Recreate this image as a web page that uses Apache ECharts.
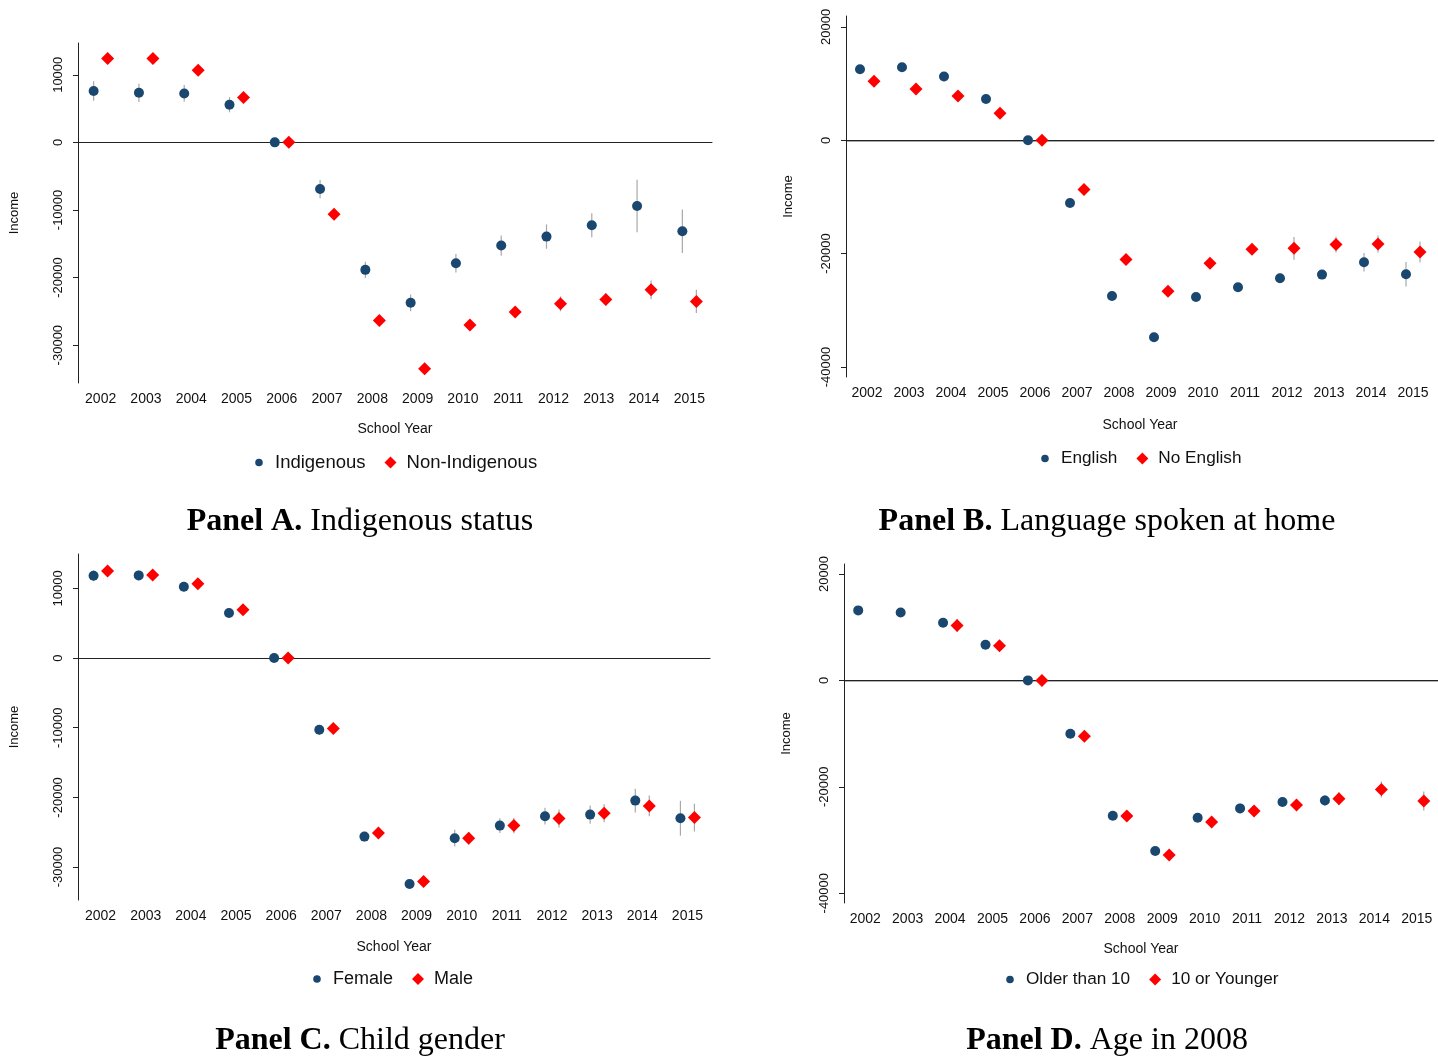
<!DOCTYPE html>
<html>
<head>
<meta charset="utf-8">
<script src="https://cdn.jsdelivr.net/npm/echarts@6/dist/echarts.min.js"></script>
<style>
html,body{margin:0;padding:0;background:#fff;}
#chart{width:1438px;height:1056px;}
</style>
</head>
<body>
<div id="chart"></div>
<script>
// ---------- data ----------
const years = ['2002','2003','2004','2005','2006','2007','2008','2009','2010','2011','2012','2013','2014','2015'];
const yTicksAC = [-30000, -20000, -10000, 0, 10000];
const yTicksBD = [-40000, -20000, 0, 20000];

// Panel A: Indigenous status
const indigenous      = [7600, 7330, 7240, 5560, 0, -6900, -18860, -23740, -17880, -15270, -13940, -12260, -9410, -13150];
const indigenousCI    = [1450, 1350, 1230, 1110, 0, 1350, 1190, 1230, 1380, 1500, 1800, 1780, 3870, 3200];
const nonIndigenous   = [12410, 12410, 10680, 6650, 0, -10640, -26350, -33490, -27030, -25110, -23890, -23250, -21820, -23540];
const nonIndigenousCI = [300, 300, 300, 300, 0, 350, 400, 500, 500, 600, 1100, 900, 1380, 1720];

// Panel B: Language spoken at home
const english     = [12530, 12880, 11240, 7290, 0, -11060, -27470, -34760, -27650, -25940, -24350, -23700, -21530, -23650];
const englishCI   = [400, 400, 400, 400, 0, 500, 500, 500, 600, 700, 800, 800, 1620, 2170];
const noEnglish   = [10410, 9060, 7820, 4760, 0, -8700, -21050, -26650, -21710, -19230, -19060, -18410, -18300, -19710];
const noEnglishCI = [700, 600, 600, 600, 0, 600, 600, 700, 800, 900, 2000, 1400, 1500, 1850];

// Panel C: Child gender
const female   = [11830, 11870, 10240, 6460, 0, -10300, -25630, -32430, -25860, -24050, -22700, -22470, -20460, -22990];
const femaleCI = [800, 700, 700, 600, 0, 700, 700, 700, 1200, 1070, 1200, 1300, 1700, 2500];
const male     = [12500, 11930, 10680, 6940, 0, -10110, -25100, -32090, -25860, -24050, -23040, -22270, -21220, -22900];
const maleCI   = [700, 700, 700, 600, 0, 600, 700, 800, 900, 1100, 1300, 1300, 1500, 2000];

// Panel D: Age in 2008
const older     = [13160, 12780, 10850, 6710, 0, -10020, -25430, -32070, -25810, -24060, -22860, -22560, null, null];
const olderCI   = [500, 500, 500, 500, 0, 600, 600, 600, 700, 900, 900, 1000, null, null];
const younger   = [null, null, 10340, 6520, 0, -10520, -25490, -32820, -26620, -24550, -23420, -22240, -20490, -22670];
const youngerCI = [null, null, 1200, 700, 0, 700, 700, 800, 1100, 1000, 1100, 1200, 1500, 1800];

// ---------- layout ----------
const BLUE = '#1a476f', RED = '#ff0000';
const SANS = 'Liberation Sans, Arial, sans-serif';
const SERIF = 'Liberation Serif, Times New Roman, serif';
// small circle inside a 12x12 box (degenerate corner points fix the bounds)
const SMALL_CIRCLE = 'path://M0,0L0,0M12,12L12,12M2.2,6A3.8,3.8,0,1,0,9.8,6A3.8,3.8,0,1,0,2.2,6Z';

const panels = [
  {grid:{left:78, top:43, width:634, height:340}, yMin:-35600, yMax:14700, ticks:yTicksAC,
   s1:['Indigenous', indigenous, indigenousCI], s2:['Non-Indigenous', nonIndigenous, nonIndigenousCI],
   title:['Panel A.', ' Indigenous status'], titleX:355, titleY:501, legendLeft:248, legendTop:448, legendFont:18.5,
   xGap:39, yGap:57, zero:'#222', zeroW:1},
  {grid:{left:846, top:16, width:588, height:361}, yMin:-41770, yMax:21930, ticks:yTicksBD,
   s1:['English', english, englishCI], s2:['No English', noEnglish, noEnglishCI],
   title:['Panel B.', ' Language spoken at home'], titleX:1102, titleY:501, legendLeft:1034, legendTop:445, legendFont:17.2,
   xGap:41, yGap:51, zero:'#8c8c8c', zeroW:1.5},
  {grid:{left:78, top:554, width:632, height:346}, yMin:-34730, yMax:14940, ticks:yTicksAC,
   s1:['Female', female, femaleCI], s2:['Male', male, maleCI],
   title:['Panel C.', ' Child gender'], titleX:355, titleY:1020, legendLeft:306, legendTop:965, legendFont:18,
   xGap:40, yGap:57, zero:'#555', zeroW:1},
  {grid:{left:844, top:564, width:594, height:339}, yMin:-41840, yMax:21880, ticks:yTicksBD,
   s1:['Older than 10', older, olderCI], s2:['10 or Younger', younger, youngerCI],
   title:['Panel D.', ' Age in 2008'], titleX:1102, titleY:1020, legendLeft:999, legendTop:966, legendFont:17.2,
   xGap:39, yGap:51, zero:'#999', zeroW:1.5}
];

function errRender(offset){
  return function(params, api){
    const lo = api.value(1), hi = api.value(2);
    if (isNaN(lo) || isNaN(hi)) return;
    const p1 = api.coord([api.value(0), lo]);
    const p2 = api.coord([api.value(0), hi]);
    return {type:'line', shape:{x1:p1[0]+offset, y1:p1[1], x2:p2[0]+offset, y2:p2[1]},
            style:{stroke:'#a8a8a8', lineWidth:1.2}};
  };
}

const option = {animation:false, backgroundColor:'#fff', grid:[], xAxis:[], yAxis:[], series:[], legend:[], title:[]};

panels.forEach((p, i) => {
  option.grid.push(Object.assign({containLabel:false}, p.grid));
  option.xAxis.push({
    type:'category', gridIndex:i, data:years, boundaryGap:true,
    name:'School Year', nameLocation:'middle', nameGap:p.xGap,
    nameTextStyle:{fontFamily:SANS, fontSize:14, color:'#111'},
    axisLine:{lineStyle:{color:'#222', width:1}},
    axisTick:{alignWithLabel:true, length:5, lineStyle:{color:'#222'}},
    axisLabel:{fontFamily:SANS, fontSize:14, color:'#111', margin:9, interval:0},
    splitLine:{show:false}
  });
  option.yAxis.push({
    type:'value', gridIndex:i, min:p.yMin, max:p.yMax,
    name:'Income', nameLocation:'middle', nameGap:p.yGap,
    nameTextStyle:{fontFamily:SANS, fontSize:13, color:'#111'},
    axisLine:{show:true, lineStyle:{color:'#222', width:1}},
    axisTick:{show:true, length:5, customValues:p.ticks, lineStyle:{color:'#222'}},
    axisLabel:{fontFamily:SANS, fontSize:13, color:'#111', rotate:90, margin:13, customValues:p.ticks,
               formatter: v => String(v)},
    splitLine:{show:false}
  });
  const mk = (s, offset, color, symbol, size, z) => {
    const [name, vals, ci] = s;
    option.series.push({
      type:'custom', xAxisIndex:i, yAxisIndex:i, renderItem:errRender(offset), silent:true, z:1,
      encode:{x:0, y:[1,2]},
      data: vals.map((v, k) => v == null ? [k, '-', '-'] : [k, v - ci[k], v + ci[k]])
    });
    option.series.push({
      type:'scatter', name:name, xAxisIndex:i, yAxisIndex:i, symbol:symbol, symbolSize:size,
      symbolOffset:[offset, 0], itemStyle:{color:color, opacity:1}, z:z,
      data: vals.map(v => v == null ? '-' : v)
    });
  };
  mk(p.s1, -7, BLUE, 'circle', 10, 3);
  mk(p.s2, 7, RED, 'diamond', 13, 3);
  // zero reference line
  option.series[option.series.length-1].markLine = {
    silent:true, symbol:['none','none'], label:{show:false},
    lineStyle:{color:p.zero, width:p.zeroW, type:'solid', opacity:1}, data:[{yAxis:0}], z:0
  };
  option.legend.push({
    left:p.legendLeft, top:p.legendTop, orient:'horizontal', itemGap:19, itemWidth:12, itemHeight:12,
    textStyle:{fontFamily:SANS, fontSize:p.legendFont, color:'#111', padding:[0,0,0,5]},
    data:[{name:p.s1[0], icon:SMALL_CIRCLE}, {name:p.s2[0], icon:'diamond'}],
    selectedMode:false
  });
  option.title.push({
    left:p.titleX, top:p.titleY, textAlign:'center',
    text:'{b|' + p.title[0] + '}{n|' + p.title[1] + '}',
    textStyle:{fontWeight:'normal', rich:{
      b:{fontFamily:SERIF, fontSize:32, fontWeight:'bold', color:'#000'},
      n:{fontFamily:SERIF, fontSize:32, fontWeight:'normal', color:'#000'}
    }}
  });
});

const chart = echarts.init(document.getElementById('chart'), null, {renderer:'canvas'});
chart.setOption(option);
</script>
</body>
</html>
